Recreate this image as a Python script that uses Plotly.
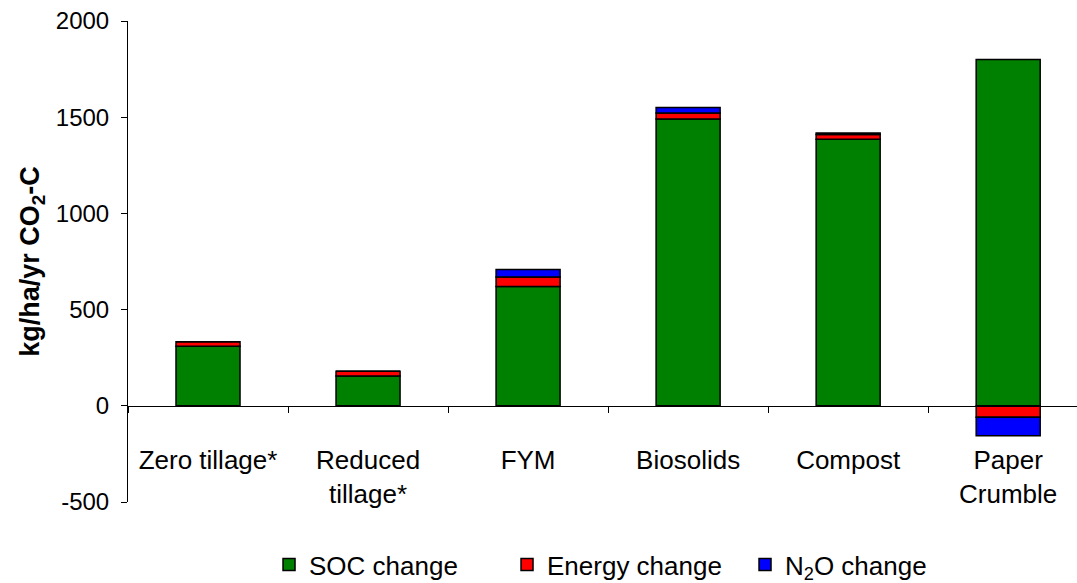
import plotly.graph_objects as go

categories = ["Zero tillage*", "Reduced<br>tillage*", "FYM", "Biosolids", "Compost", "Paper<br>Crumble"]
soc_change = [310, 155, 620, 1490, 1385, 1800]
energy_change = [23, 24, 50, 32, 25, -60]
n2o_change = [0, 0, 38, 28, 8, -96]
y_tick_vals = [-500, 0, 500, 1000, 1500, 2000]
y_tick_text = ["-500", "0", "500", "1000", "1500", "2000"]

FONT = "Liberation Sans, Arial, sans-serif"
line = dict(color="black", width=1.5)

fig = go.Figure()
fig.add_trace(go.Bar(x=categories, y=soc_change, name="SOC change",
                     marker=dict(color="#008000", line=line), width=0.4))
fig.add_trace(go.Bar(x=categories, y=energy_change, name="Energy change",
                     marker=dict(color="#FF0000", line=line), width=0.4))
fig.add_trace(go.Bar(x=categories, y=n2o_change, name="N<sub>2</sub>O change",
                     marker=dict(color="#0000FF", line=line), width=0.4))

fig.update_layout(
    width=1077, height=583,
    barmode="relative",
    plot_bgcolor="white", paper_bgcolor="white",
    margin=dict(l=128, r=0, t=21, b=81, autoexpand=False),
    font=dict(family=FONT, size=24, color="black"),
    showlegend=True,
    legend=dict(orientation="h", x=0.1486, xanchor="left", y=-0.13, yanchor="middle",
                font=dict(size=26), traceorder="normal",
                entrywidth=193, entrywidthmode="pixels"),
    xaxis=dict(
        range=[-0.5, 5.43], anchor="free", position=0.2, automargin=False,
        showline=True, linecolor="black", linewidth=1,
        ticks="outside", tickson="boundaries", ticklen=6, tickcolor="black",
        ticklabelstandoff=31, showgrid=False, zeroline=False,
        tickfont=dict(size=26),
    ),
    yaxis=dict(
        range=[-500, 2000], tickvals=y_tick_vals, ticktext=y_tick_text,
        automargin=False,
        showline=True, linecolor="black", linewidth=1,
        ticks="outside", ticklen=6, tickcolor="black", ticklabelstandoff=7,
        showgrid=False, zeroline=False,
        tickfont=dict(size=24),
        title=dict(text="<b>kg/ha/yr CO<sub>2</sub>-C</b>", font=dict(size=27), standoff=8),
    ),
)

fig.write_html("out.html", config={"displayModeBar": False},
               post_script="document.body.style.margin='0';")
